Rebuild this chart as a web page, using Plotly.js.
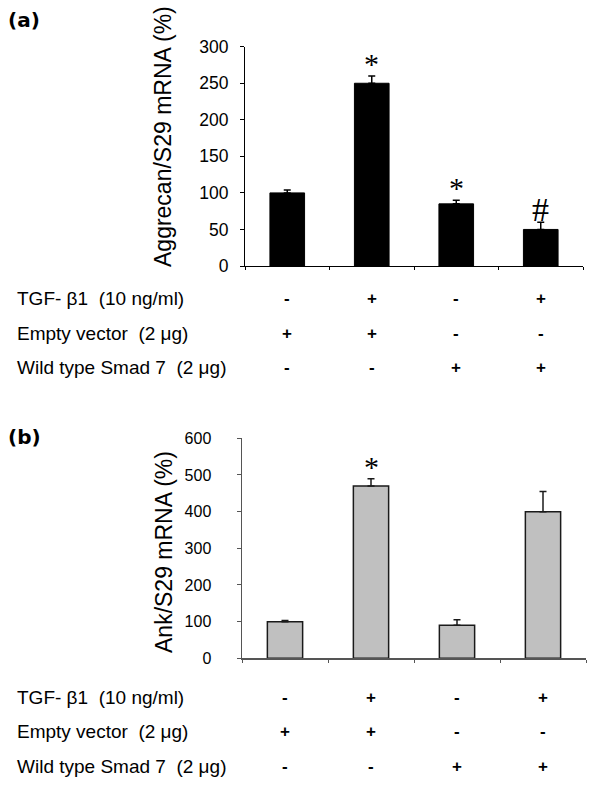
<!DOCTYPE html>
<html>
<head>
<meta charset="utf-8">
<script src="https://cdn.plot.ly/plotly-3.0.1.min.js"></script>
<style>html,body{margin:0;padding:0;background:#fff;}#chart{width:600px;height:790px;}</style>
</head>
<body>
<div id="chart"></div>
<script>
// ---- data ----
const categories = ['Control', 'TGF-β1', 'Smad 7', 'TGF-β1 + Smad 7'];
const aggrecan = [100, 250, 85, 50];
const aggrecanErr = [4, 10, 5, 10];
const aggrecanSig = ['', '*', '*', '#'];
const ank = [100, 470, 90, 400];
const ankErr = [3, 20, 15, 55];
const ankSig = ['', '*', '', ''];
const aggrecanTicks = [0, 50, 100, 150, 200, 250, 300];
const ankTicks = [0, 100, 200, 300, 400, 500, 600];
const aggrecanTitle = 'Aggrecan/S29 mRNA (%)';
const ankTitle = 'Ank/S29 mRNA (%)';
const rowLabels = ['TGF- β1  (10 ng/ml)', 'Empty vector  (2 μg)', 'Wild type Smad 7  (2 μg)'];
const tgfRow = ['-', '+', '-', '+'];
const emptyRow = ['+', '+', '-', '-'];
const smadRow = ['-', '-', '+', '+'];
const signRows = [tgfRow, emptyRow, smadRow];

// ---- layout helpers ----
const W = 600, H = 790;
const py = p => 1 - p / H;
const px = p => p / W;
const sans = '"Liberation Sans", Arial, sans-serif';
const bold = '"DejaVu Sans", sans-serif';
const serif = '"Liberation Serif", "Times New Roman", serif';

const traces = [
  {
    type: 'bar', x: categories, y: aggrecan, xaxis: 'x', yaxis: 'y',
    marker: {color: '#000000', line: {color: '#000000', width: 1}},
    error_y: {type: 'data', symmetric: false, array: aggrecanErr, arrayminus: aggrecan.map(() => 0),
              color: '#000000', thickness: 1.5, width: 3.5},
    hoverinfo: 'skip'
  },
  {
    type: 'bar', x: categories, y: ank, xaxis: 'x2', yaxis: 'y2',
    marker: {color: '#c0c0c0', line: {color: '#1a1a1a', width: 1.5}},
    error_y: {type: 'data', symmetric: false, array: ankErr, arrayminus: ank.map(() => 0),
              color: '#1a1a1a', thickness: 1.5, width: 3.5},
    hoverinfo: 'skip'
  }
];

const annotations = [];
// panel letters
annotations.push({xref: 'paper', yref: 'paper', x: px(6), y: py(20), xanchor: 'left', yanchor: 'middle',
  text: '<b>(a)</b>', showarrow: false, font: {family: bold, size: 20, color: '#000'}});
annotations.push({xref: 'paper', yref: 'paper', x: px(6), y: py(437), xanchor: 'left', yanchor: 'middle',
  text: '<b>(b)</b>', showarrow: false, font: {family: bold, size: 20, color: '#000'}});

// y-axis titles (placed as in the figure, not centred on the axis)
annotations.push({xref: 'paper', yref: 'paper', x: px(163), y: py(137), xanchor: 'center', yanchor: 'middle',
  textangle: -90, text: aggrecanTitle, showarrow: false, font: {family: sans, size: 23, color: '#000'}});
annotations.push({xref: 'paper', yref: 'paper', x: px(164), y: py(552), xanchor: 'center', yanchor: 'middle',
  textangle: -90, text: ankTitle, showarrow: false, font: {family: sans, size: 23, color: '#000'}});

// significance markers
function addSig(sig, vals, errs, xr, yr) {
  sig.forEach((s, i) => {
    if (!s) return;
    annotations.push({xref: xr, yref: yr, x: categories[i], y: vals[i] + errs[i],
      xanchor: 'center', yanchor: 'bottom', yshift: s === '#' ? -8 : -6, text: s, showarrow: false,
      font: {family: serif, size: s === '#' ? 34 : 30, color: '#000'}});
  });
}
addSig(aggrecanSig, aggrecan, aggrecanErr, 'x', 'y');
addSig(ankSig, ank, ankErr, 'x2', 'y2');

// treatment tables
function addTable(rowYs, xr) {
  rowLabels.forEach((lab, r) => {
    annotations.push({xref: 'paper', yref: 'paper', x: px(15), y: py(rowYs[r]), xanchor: 'left', yanchor: 'middle',
      text: lab, showarrow: false, font: {family: sans, size: 19, color: '#000'}});
    signRows[r].forEach((s, i) => {
      annotations.push({xref: xr, yref: 'paper', x: categories[i], y: py(rowYs[r]), xanchor: 'center', yanchor: 'middle',
        text: '<b>' + s + '</b>', showarrow: false, font: {family: sans, size: 17, color: '#000'}});
    });
  });
}
addTable([298, 333, 367], 'x');
addTable([697, 731, 766], 'x2');

const xCommon = {
  type: 'category', showline: true, ticks: 'outside', tickson: 'boundaries', ticklen: 3,
  showticklabels: false, showgrid: false, zeroline: false, range: [-0.5, 3.5], fixedrange: true
};

const layout = {
  width: W, height: H,
  margin: {l: 0, r: 0, t: 0, b: 0},
  paper_bgcolor: '#fff', plot_bgcolor: '#fff',
  showlegend: false,
  bargap: 0.59,
  xaxis: Object.assign({}, xCommon, {domain: [px(245), px(583)], anchor: 'y', linecolor: '#000', tickcolor: '#000', linewidth: 1}),
  yaxis: {
    domain: [py(266), py(46.7)], anchor: 'x', range: [0, 300], tickmode: 'array', tickvals: aggrecanTicks,
    ticks: 'outside', ticklen: 4, tickcolor: '#000', showline: true, linecolor: '#000', linewidth: 1,
    showgrid: false, zeroline: false, ticklabelstandoff: 8,
    tickfont: {family: sans, size: 17.5, color: '#000'}
  },
  xaxis2: Object.assign({}, xCommon, {domain: [px(242), px(586)], anchor: 'y2', linecolor: '#555', tickcolor: '#555', linewidth: 1.5}),
  yaxis2: {
    domain: [py(658.3), py(438.3)], anchor: 'x2', range: [0, 600], tickmode: 'array', tickvals: ankTicks,
    ticks: 'outside', ticklen: 4, tickcolor: '#555', showline: true, linecolor: '#555', linewidth: 1.5,
    showgrid: false, zeroline: false, ticklabelstandoff: 22,
    tickfont: {family: sans, size: 16, color: '#000'}
  },
  annotations: annotations
};

Plotly.newPlot('chart', traces, layout, {staticPlot: true, displayModeBar: false});
</script>
</body>
</html>
